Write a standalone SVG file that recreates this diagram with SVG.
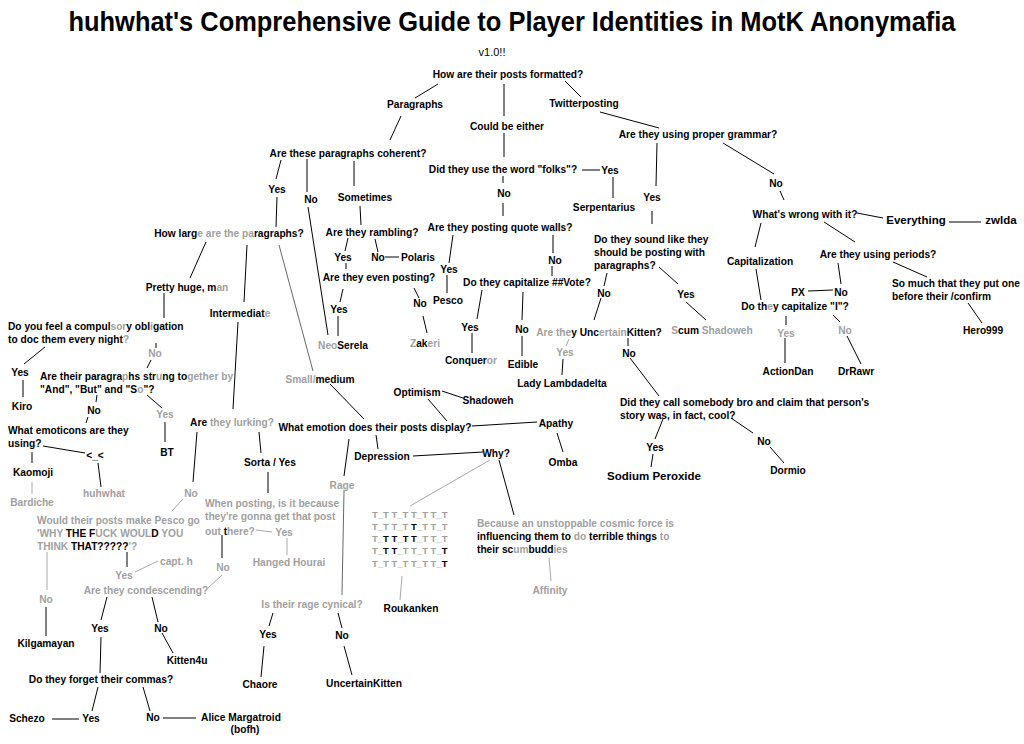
<svg xmlns="http://www.w3.org/2000/svg" width="1024" height="744" viewBox="0 0 1024 744">
<style>
text{font-family:"Liberation Sans",Arial,Helvetica,sans-serif;font-weight:bold;font-size:10.2px;fill:#000}
.m{text-anchor:middle}
.g{fill:#a0a0a0}
.b{font-size:11.5px}
.tt{font-size:9.5px}
.ttl{font-size:27px}
.v{font-weight:normal;font-size:11px}
#connectors line{stroke:#000;stroke-width:1}
#connectors line.g{stroke:#a8a8a8}
#connectors line.d{stroke:#666}
</style>
<rect width="1024" height="744" fill="#fff"/>
<g id="connectors">
<line x1="438" y1="84" x2="415" y2="98"/>
<line x1="504" y1="84" x2="504" y2="116"/>
<line x1="565" y1="81" x2="581" y2="97"/>
<line x1="401" y1="116" x2="390" y2="140"/>
<line x1="600" y1="112" x2="659" y2="128"/>
<line x1="504" y1="133" x2="504" y2="157"/>
<line x1="582" y1="170" x2="600" y2="170"/>
<line x1="503" y1="176" x2="503" y2="183"/>
<line x1="503" y1="203" x2="503" y2="216"/>
<line x1="613" y1="177" x2="613" y2="198"/>
<line x1="657" y1="143" x2="656" y2="186"/>
<line x1="652" y1="211" x2="652" y2="224"/>
<line x1="354" y1="161" x2="354" y2="186"/>
<line x1="281" y1="160" x2="276" y2="179"/>
<line x1="307" y1="159" x2="307" y2="192"/>
<line x1="277" y1="197" x2="276" y2="227"/>
<line x1="308" y1="207" x2="328" y2="335"/>
<line x1="360" y1="206" x2="361" y2="225"/>
<line x1="348" y1="238" x2="345" y2="251"/>
<line x1="375" y1="239" x2="378" y2="252"/>
<line x1="385" y1="257" x2="399" y2="257"/>
<line x1="346" y1="263" x2="346" y2="269"/>
<line x1="343" y1="289" x2="340" y2="302"/>
<line x1="414" y1="288" x2="419" y2="298"/>
<line x1="338" y1="316" x2="338" y2="336"/>
<line x1="423" y1="316" x2="427" y2="333"/>
<line x1="453" y1="235" x2="449" y2="263"/>
<line x1="447" y1="275" x2="447" y2="293"/>
<line x1="553" y1="235" x2="553" y2="253"/>
<line x1="552" y1="266" x2="552" y2="276"/>
<line x1="482" y1="290" x2="477" y2="319"/>
<line x1="523" y1="292" x2="522" y2="320"/>
<line x1="472" y1="333" x2="472" y2="353"/>
<line x1="522" y1="336" x2="522" y2="356"/>
<line x1="607" y1="273" x2="604" y2="286"/>
<line x1="601" y1="298" x2="594" y2="320"/>
<line x1="659" y1="267" x2="678" y2="284"/>
<line x1="686" y1="302" x2="706" y2="320"/>
<line class="g" x1="569" y1="339" x2="566" y2="346"/>
<line x1="563" y1="359" x2="562" y2="375"/>
<line x1="628" y1="338" x2="628" y2="346"/>
<line x1="630" y1="358" x2="659" y2="396"/>
<line x1="663" y1="419" x2="655" y2="439"/>
<line x1="653" y1="454" x2="651" y2="467"/>
<line x1="731" y1="418" x2="753" y2="433"/>
<line x1="770" y1="447" x2="784" y2="463"/>
<line x1="723" y1="143" x2="774" y2="174"/>
<line x1="780" y1="191" x2="784" y2="200"/>
<line x1="857" y1="213" x2="883" y2="218"/>
<line x1="949" y1="222" x2="981" y2="222"/>
<line x1="761" y1="223" x2="755" y2="247"/>
<line x1="824" y1="222" x2="855" y2="242"/>
<line x1="756" y1="269" x2="761" y2="300"/>
<line x1="838" y1="263" x2="841" y2="284"/>
<line x1="808" y1="291" x2="833" y2="290"/>
<line x1="893" y1="262" x2="927" y2="277"/>
<line x1="968" y1="303" x2="982" y2="323"/>
<line x1="786" y1="316" x2="786" y2="325"/>
<line x1="785" y1="338" x2="785" y2="363"/>
<line x1="833" y1="315" x2="840" y2="322"/>
<line x1="847" y1="336" x2="861" y2="364"/>
<line x1="206" y1="242" x2="190" y2="278"/>
<line x1="247" y1="245" x2="244" y2="302"/>
<line class="d" x1="279" y1="245" x2="313" y2="371"/>
<line x1="164" y1="293" x2="164" y2="318"/>
<line x1="156" y1="343" x2="156" y2="348"/>
<line x1="45" y1="347" x2="24" y2="364"/>
<line x1="23" y1="380" x2="23" y2="397"/>
<line x1="151" y1="360" x2="147" y2="368"/>
<line x1="97" y1="395" x2="96" y2="402"/>
<line x1="147" y1="395" x2="162" y2="408"/>
<line x1="165" y1="422" x2="165" y2="442"/>
<line x1="88" y1="417" x2="86" y2="423"/>
<line x1="43" y1="446" x2="85" y2="453"/>
<line x1="32" y1="452" x2="32" y2="463"/>
<line x1="98" y1="463" x2="101" y2="487"/>
<line class="g" x1="32" y1="482" x2="32" y2="494"/>
<line x1="238" y1="322" x2="233" y2="409"/>
<line x1="197" y1="432" x2="193" y2="482"/>
<line x1="259" y1="432" x2="261" y2="453"/>
<line x1="268" y1="472" x2="268" y2="493"/>
<line class="g" x1="183" y1="499" x2="172" y2="511"/>
<line class="g" x1="47" y1="552" x2="47" y2="590"/>
<line x1="46" y1="607" x2="46" y2="636"/>
<line x1="127" y1="552" x2="127" y2="567"/>
<line class="g" x1="135" y1="572" x2="158" y2="561"/>
<line x1="222" y1="535" x2="222" y2="558"/>
<line class="g" x1="222" y1="575" x2="208" y2="588"/>
<line class="g" x1="256" y1="530" x2="272" y2="532"/>
<line class="g" x1="287" y1="538" x2="287" y2="555"/>
<line x1="107" y1="597" x2="101" y2="620"/>
<line x1="152" y1="597" x2="158" y2="622"/>
<line x1="162" y1="633" x2="173" y2="653"/>
<line x1="101" y1="637" x2="100" y2="673"/>
<line x1="98" y1="687" x2="92" y2="711"/>
<line x1="143" y1="687" x2="150" y2="711"/>
<line x1="52" y1="719" x2="79" y2="719"/>
<line x1="163" y1="718" x2="196" y2="718"/>
<line x1="330" y1="384" x2="364" y2="419"/>
<line x1="428" y1="399" x2="447" y2="421"/>
<line x1="442" y1="391" x2="463" y2="398"/>
<line x1="472" y1="426" x2="537" y2="422"/>
<line x1="557" y1="433" x2="563" y2="452"/>
<line x1="376" y1="435" x2="378" y2="449"/>
<line x1="413" y1="456" x2="483" y2="452"/>
<line x1="349" y1="439" x2="344" y2="476"/>
<line class="d" x1="344" y1="491" x2="342" y2="595"/>
<line class="g" x1="490" y1="460" x2="410" y2="506"/>
<line x1="499" y1="460" x2="514" y2="515"/>
<line class="g" x1="402" y1="576" x2="400" y2="600"/>
<line class="g" x1="549" y1="558" x2="551" y2="581"/>
<line x1="273" y1="613" x2="269" y2="626"/>
<line x1="264" y1="646" x2="261" y2="677"/>
<line x1="338" y1="613" x2="342" y2="628"/>
<line x1="344" y1="646" x2="352" y2="675"/>
</g>
<g id="title"><text class="ttl m" x="512" y="31" textLength="887" lengthAdjust="spacingAndGlyphs">huhwhat's Comprehensive Guide to Player Identities in MotK Anonymafia</text></g>
<g id="version"><text class="v m" x="492" y="56">v1.0!!</text></g>
<g id="n_formatted"><text class="m" x="508" y="78">How are their posts formatted?</text></g>
<g id="n_paragraphs"><text class="m" x="415" y="108">Paragraphs</text></g>
<g id="n_twitter"><text class="m" x="584" y="107">Twitterposting</text></g>
<g id="n_either"><text class="m" x="507" y="130">Could be either</text></g>
<g id="n_grammar"><text class="m" x="698" y="138">Are they using proper grammar?</text></g>
<g id="n_coherent"><text class="m" x="348" y="157">Are these paragraphs coherent?</text></g>
<g id="n_folks"><text class="m" x="503" y="173">Did they use the word "folks"?</text></g>
<g id="n_folks_yes"><text class="m" x="610" y="174">Yes</text></g>
<g id="n_coh_yes"><text class="m" x="277" y="193">Yes</text></g>
<g id="n_coh_no"><text class="m" x="311" y="203">No</text></g>
<g id="n_sometimes"><text class="m" x="365" y="201">Sometimes</text></g>
<g id="n_folks_no"><text class="m" x="504" y="197">No</text></g>
<g id="n_serpentarius"><text class="m" x="604" y="211">Serpentarius</text></g>
<g id="n_gram_yes"><text class="m" x="652" y="201">Yes</text></g>
<g id="n_gram_no"><text class="m" x="776" y="187">No</text></g>
<g id="n_wrong"><text class="m" x="805" y="218">What's wrong with it?</text></g>
<g id="n_everything"><text class="m b" x="916" y="224">Everything</text></g>
<g id="n_zwlda"><text class="m b" x="1001" y="224">zwlda</text></g>
<g id="n_howlarge"><text class="m" x="229" y="237">How larg<tspan class="g">e are the pa</tspan>ragraphs?</text></g>
<g id="n_rambling"><text class="m" x="372" y="236">Are they rambling?</text></g>
<g id="n_quotewalls"><text class="m" x="500" y="231">Are they posting quote walls?</text></g>
<g id="n_sound"><text x="594" y="243">Do they sound like they</text><text x="594" y="256">should be posting with</text><text x="594" y="269">paragraphs?</text></g>
<g id="n_capitalization"><text class="m" x="760" y="265">Capitalization</text></g>
<g id="n_periods"><text class="m" x="878" y="258">Are they using periods?</text></g>
<g id="n_ramb_yes"><text class="m" x="343" y="261">Yes</text></g>
<g id="n_ramb_no"><text class="m" x="378" y="261">No</text></g>
<g id="n_polaris"><text class="m" x="418" y="261">Polaris</text></g>
<g id="n_qw_no"><text class="m" x="555" y="264">No</text></g>
<g id="n_evenposting"><text class="m" x="379" y="281">Are they even posting?</text></g>
<g id="n_qw_yes"><text class="m" x="449" y="273">Yes</text></g>
<g id="n_pesco"><text class="m" x="448" y="304">Pesco</text></g>
<g id="n_vote"><text class="m" x="527" y="286">Do they capitalize ##Vote?</text></g>
<g id="n_sound_no"><text class="m" x="604" y="297">No</text></g>
<g id="n_sound_yes"><text class="m" x="686" y="298">Yes</text></g>
<g id="n_prettyhuge"><text class="m" x="187" y="291">Pretty huge, m<tspan class="g">an</tspan></text></g>
<g id="n_px"><text class="m" x="798" y="296">PX</text></g>
<g id="n_per_no"><text class="m" x="841" y="296">No</text></g>
<g id="n_somuch"><text x="892" y="287">So much that they put one</text><text x="892" y="300">before their /confirm</text></g>
<g id="n_capI"><text class="m" x="795" y="310">Do th<tspan class="g">e</tspan>y capitalize "I"?</text></g>
<g id="n_ep_no"><text class="m" x="420" y="307">No</text></g>
<g id="n_ep_yes"><text class="m" x="339" y="313">Yes</text></g>
<g id="n_intermediate"><text class="m" x="240" y="317">Intermediat<tspan class="g">e</tspan></text></g>
<g id="n_compulsory"><text x="8" y="330">Do you feel a compul<tspan class="g">sor</tspan>y obl<tspan class="g">i</tspan>gation</text><text x="8" y="343">to doc them every night<tspan class="g">?</tspan></text></g>
<g id="n_hero"><text class="m" x="983" y="334">Hero999</text></g>
<g id="n_vote_yes"><text class="m" x="470" y="331">Yes</text></g>
<g id="n_vote_no"><text class="m" x="522" y="333">No</text></g>
<g id="n_zakeri"><text class="m" x="425" y="347"><tspan class="g">Z</tspan>ak<tspan class="g">eri</tspan></text></g>
<g id="n_neoserela"><text class="m" x="343" y="349"><tspan class="g">Neo</tspan>Serela</text></g>
<g id="n_uk"><text class="m" x="599" y="336"><tspan class="g">Are the</tspan>y Unc<tspan class="g">ertain</tspan>Kitten?</text></g>
<g id="n_scum"><text class="m" x="712" y="334"><tspan class="g">S</tspan>cum <tspan class="g">Shadoweh</tspan></text></g>
<g id="n_capI_yes"><text class="m g" x="786" y="337">Yes</text></g>
<g id="n_capI_no"><text class="m g" x="845" y="334">No</text></g>
<g id="n_uk_yes"><text class="m g" x="565" y="356">Yes</text></g>
<g id="n_uk_no"><text class="m" x="629" y="357">No</text></g>
<g id="n_comp_no"><text class="m g" x="155" y="357">No</text></g>
<g id="n_conqueror"><text class="m" x="471" y="364">Conquer<tspan class="g">or</tspan></text></g>
<g id="n_edible"><text class="m" x="523" y="368">Edible</text></g>
<g id="n_actiondan"><text class="m" x="788" y="375">ActionDan</text></g>
<g id="n_drrawr"><text class="m" x="856" y="375">DrRawr</text></g>
<g id="n_comp_yes"><text class="m" x="20" y="376">Yes</text></g>
<g id="n_strung"><text x="40" y="380">Are their paragra<tspan class="g">p</tspan>hs str<tspan class="g">u</tspan>ng to<tspan class="g">gether by</tspan></text><text x="40" y="393">"And", "But" and "S<tspan class="g">o</tspan>"?</text></g>
<g id="n_small"><text class="m" x="320" y="383"><tspan class="g">Small/</tspan>medium</text></g>
<g id="n_lady"><text class="m" x="562" y="387">Lady Lambdadelta</text></g>
<g id="n_optimism"><text class="m" x="417" y="396">Optimism</text></g>
<g id="n_shadoweh"><text class="m" x="488" y="404">Shadoweh</text></g>
<g id="n_kiro"><text class="m" x="22" y="410">Kiro</text></g>
<g id="n_strung_no"><text class="m" x="94" y="414">No</text></g>
<g id="n_strung_yes"><text class="m g" x="165" y="418">Yes</text></g>
<g id="n_bro"><text x="620" y="406">Did they call somebody bro and claim that person's</text><text x="620" y="419">story was, in fact, cool?</text></g>
<g id="n_lurking"><text class="m" x="232" y="426">Are <tspan class="g">they lurking?</tspan></text></g>
<g id="n_emotion"><text class="m" x="375" y="431">What emotion does their posts display?</text></g>
<g id="n_apathy"><text class="m" x="556" y="427">Apathy</text></g>
<g id="n_emoticons"><text x="8" y="434">What emoticons are they</text><text x="8" y="447">using?</text></g>
<g id="n_bro_no"><text class="m" x="764" y="445">No</text></g>
<g id="n_bro_yes"><text class="m" x="655" y="451">Yes</text></g>
<g id="n_depression"><text class="m" x="382" y="460">Depression</text></g>
<g id="n_why"><text class="m" x="496" y="457">Why?</text></g>
<g id="n_ltlt"><text class="m" x="95" y="459">&lt;_&lt;</text></g>
<g id="n_bt"><text class="m" x="167" y="456">BT</text></g>
<g id="n_sorta"><text class="m" x="270" y="466">Sorta / Yes</text></g>
<g id="n_omba"><text class="m" x="563" y="466">Omba</text></g>
<g id="n_kaomoji"><text class="m" x="33" y="476">Kaomoji</text></g>
<g id="n_sodium"><text class="m b" x="654" y="480">Sodium Peroxide</text></g>
<g id="n_dormio"><text class="m" x="788" y="474">Dormio</text></g>
<g id="n_rage"><text class="m g" x="342" y="489">Rage</text></g>
<g id="n_bardiche"><text class="m g" x="32" y="506">Bardiche</text></g>
<g id="n_huhwhat"><text class="m g" x="104" y="497">huhwhat</text></g>
<g id="n_lurk_no"><text class="m g" x="191" y="497">No</text></g>
<g id="n_whenposting"><text class="g" x="205" y="507">When posting, is it because</text><text class="g" x="205" y="520">they're gonna get that post</text><text class="g" x="205" y="535">out <tspan fill="#000">t</tspan>here?</text></g>
<g id="n_wp_yes"><text class="m g" x="284" y="536">Yes</text></g>
<g id="n_pescogo"><text class="g" x="37" y="524">Would their posts make Pesco go</text><text class="g" x="37" y="537">'WHY <tspan fill="#000">THE F</tspan>UCK WOUL<tspan fill="#000">D</tspan> YOU</text><text class="g" x="37" y="550">THINK <tspan fill="#000">THAT?????</tspan>'?</text></g>
<g id="n_tt" class="tt"><text class="tt g" x="372" y="518">T_T T_T T_T T_T</text><text class="tt g" x="372" y="530">T_T T_T <tspan fill="#000">T</tspan>_T T_T</text><text class="tt g" x="372" y="542">T_<tspan fill="#000">T T</tspan>_<tspan fill="#000">T T</tspan>_T T_T</text><text class="tt g" x="372" y="554">T_<tspan fill="#000">T T</tspan>_T T_T T_<tspan fill="#000">T</tspan></text><text class="tt g" x="372" y="567">T_T T_T T_T T_<tspan fill="#000">T</tspan></text></g>
<g id="n_because"><text class="g" x="477" y="527">Because an unstoppable cosmic force is</text><text x="477" y="540">influencing them to <tspan class="g">do</tspan> terrible things <tspan class="g">to</tspan></text><text x="477" y="553">their sc<tspan class="g">um</tspan>budd<tspan class="g">ies</tspan></text></g>
<g id="n_hanged"><text class="m g" x="289" y="566">Hanged Hourai</text></g>
<g id="n_capth"><text class="g" x="160" y="565">capt. h</text></g>
<g id="n_wp_no"><text class="m g" x="223" y="571">No</text></g>
<g id="n_pg_yes"><text class="m g" x="124" y="579">Yes</text></g>
<g id="n_condescending"><text class="m g" x="146" y="594">Are they condescending?</text></g>
<g id="n_affinity"><text class="m g" x="550" y="594">Affinity</text></g>
<g id="n_pg_no"><text class="m g" x="46" y="603">No</text></g>
<g id="n_cynical"><text class="m g" x="312" y="608">Is their rage cynical?</text></g>
<g id="n_roukanken"><text class="m" x="411" y="612">Roukanken</text></g>
<g id="n_cond_yes"><text class="m" x="100" y="632">Yes</text></g>
<g id="n_cond_no"><text class="m" x="161" y="632">No</text></g>
<g id="n_cyn_yes"><text class="m" x="268" y="638">Yes</text></g>
<g id="n_cyn_no"><text class="m" x="342" y="639">No</text></g>
<g id="n_kilgamayan"><text class="m" x="46" y="647">Kilgamayan</text></g>
<g id="n_kitten4u"><text class="m" x="187" y="664">Kitten4u</text></g>
<g id="n_commas"><text class="m" x="101" y="683">Do they forget their commas?</text></g>
<g id="n_chaore"><text class="m" x="260" y="688">Chaore</text></g>
<g id="n_uncertainkitten"><text class="m" x="364" y="687">UncertainKitten</text></g>
<g id="n_schezo"><text class="m" x="27" y="722">Schezo</text></g>
<g id="n_com_yes"><text class="m" x="91" y="722">Yes</text></g>
<g id="n_com_no"><text class="m" x="153" y="721">No</text></g>
<g id="n_alice"><text class="m" x="241" y="721">Alice Margatroid</text><text class="m" x="245" y="733">(bofh)</text></g>
</svg>
